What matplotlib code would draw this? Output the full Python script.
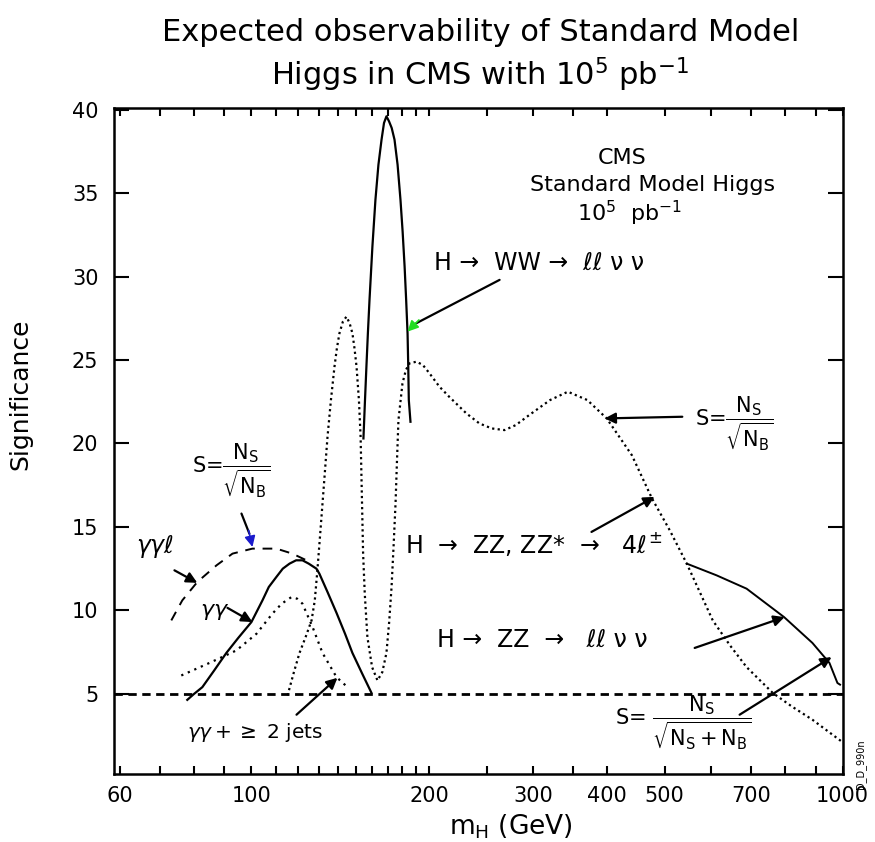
import matplotlib
matplotlib.use('Agg')
import matplotlib.pyplot as plt
from matplotlib.ticker import FixedLocator, NullFormatter

plt.rcParams['font.family'] = 'DejaVu Sans'
plt.rcParams['mathtext.fontset'] = 'dejavusans'

# H -> WW -> l l nu nu (solid)
ww_m = [154.7, 155.6, 156.5, 157.4, 158.4, 160.2, 162.1, 164.0, 166.0, 167.6, 169.2, 170.9,
        172.7, 174.6, 176.7, 178.7, 180.2, 181.6, 182.7, 183.7, 184.2, 184.6, 185.8]
ww_s = [20.3, 22.5, 24.6, 26.6, 28.6, 31.8, 34.6, 36.7, 38.2, 39.2, 39.6, 39.3,
        38.9, 38.2, 36.7, 34.6, 32.7, 30.6, 28.6, 26.6, 24.6, 22.6, 21.3]

# H -> ZZ, ZZ* -> 4l (dotted)
zz4l_m = [115.1, 118, 120.6, 123.5, 126.4, 128, 129.3, 130.6, 131.9, 133.2, 134.5, 136.3,
          138.2, 139.5, 140.9, 142.8, 144.8, 146.6, 148.2, 149.4, 150.6, 152, 153.0, 154.5,
          155.5, 157.1, 160, 163.4, 166.5, 169.2, 171, 172.6, 174, 175.3, 176.3, 177.3,
          180.1, 182.5, 185.1, 190.2, 195, 200.1, 208, 216, 231, 243, 255, 268, 280, 295,
          320, 343, 370, 399, 440, 476, 510, 545, 603, 645, 688, 762, 820, 889, 1000]
zz4l_s = [4.9, 6.3, 7.45, 8.4, 9.4, 10.6, 12.4, 14.4, 16.4, 18.4, 20.4, 22.6,
          24.6, 25.7, 26.6, 27.3, 27.6, 27.2, 26.6, 25.7, 24.6, 22.6, 20.4, 13.4,
          11.0, 8.4, 6.6, 5.8, 6.3, 7.45, 9.3, 11.4, 13.9, 16.4, 19.0, 21.4,
          23.6, 24.4, 24.8, 24.9, 24.7, 24.2, 23.4, 22.8, 21.8, 21.2, 20.9, 20.8, 21.1, 21.7,
          22.6, 23.1, 22.6, 21.5, 19.3, 16.7, 14.8, 12.8, 9.4, 7.9, 6.6, 5.05, 4.25, 3.45, 2.1]

# H -> gamma gamma (solid)
gg_m = [77.9, 80, 82.6, 86.5, 90.7, 95, 100, 104.4, 107, 110.2, 113, 116, 119, 122,
        125, 128.8, 130.3, 134.5, 139.3, 144, 148.2, 154, 159.6]
gg_s = [4.64, 5.0, 5.4, 6.4, 7.45, 8.35, 9.3, 10.6, 11.4, 12.0, 12.5, 12.8, 13.0, 13.0,
        12.8, 12.5, 12.2, 11.1, 9.85, 8.6, 7.45, 6.2, 5.06]

# gamma gamma + >= 2 jets (dotted)
ggj_m = [76.1, 84.9, 94.3, 102, 108.5, 112.5, 116.9, 119.5, 122.0, 126.9, 131.9, 139.3, 145.4]
ggj_s = [6.1, 6.85, 7.6, 8.6, 9.8, 10.4, 10.8, 10.7, 10.4, 9.0, 7.45, 6.0, 5.4]

# gamma gamma l (dashed)
ggl_m = [73.2, 76.4, 81.0, 87.3, 92.9, 100.4, 110.2, 117.3, 123.9]
ggl_s = [9.4, 10.6, 11.7, 12.7, 13.4, 13.7, 13.7, 13.4, 13.0]

# H -> ZZ -> l l nu nu (solid)
zzln_m = [545, 612, 688, 796, 889, 950, 980, 990]
zzln_s = [12.8, 12.1, 11.3, 9.6, 8.05, 6.85, 5.65, 5.55]

discovery = 5

xticks_major = [60, 100, 200, 300, 400, 500, 700, 1000]
xticks_minor = [70, 80, 90, 110, 120, 130, 140, 150, 160, 170, 180, 190,
                250, 350, 600, 800, 900]
yticks = [5, 10, 15, 20, 25, 30, 35, 40]

fig = plt.figure(figsize=(8.75, 8.42), dpi=100)
ax = fig.add_axes([0.130, 0.0808, 0.833, 0.791])

ax.plot(ww_m, ww_s, color='black', lw=1.6)
ax.plot(zz4l_m, zz4l_s, color='black', lw=1.6, linestyle=(0, (1, 1.5)))
ax.plot(gg_m, gg_s, color='black', lw=1.6)
ax.plot(ggj_m, ggj_s, color='black', lw=1.6, linestyle=(0, (1, 2.2)))
ax.plot(ggl_m, ggl_s, color='black', lw=1.4, linestyle=(0, (5, 4)))
ax.plot(zzln_m, zzln_s, color='black', lw=1.4)
ax.axhline(discovery, color='black', lw=2, linestyle=(0, (3, 2)))

ax.set_xscale('log')
ax.set_xlim(58.5, 1000)
ax.set_ylim(0.2, 40.1)
ax.xaxis.set_major_locator(FixedLocator(xticks_major))
ax.xaxis.set_minor_locator(FixedLocator(xticks_minor))
ax.set_xticklabels([str(t) for t in xticks_major])
ax.xaxis.set_minor_formatter(NullFormatter())
ax.set_yticks(yticks)
ax.tick_params(axis='x', which='both', direction='in', top=True, length=6, width=1.5,
               labelsize=15, pad=9)
ax.tick_params(axis='y', direction='in', right=True, length=11, width=1.5,
               labelsize=15, pad=11)
for sp in ax.spines.values():
    sp.set_linewidth(1.8)

ax.set_xlabel(r'm$_{\rm H}$ (GeV)', fontsize=19)
ax.xaxis.set_label_coords(0.545, -0.058)
ax.set_ylabel('Significance', fontsize=18)
ax.yaxis.set_label_coords(-0.111, 0.57)

fig.text(0.549, 0.961, 'Expected observability of Standard Model', ha='center', va='center',
         fontsize=22)
fig.text(0.549, 0.911, r'Higgs in CMS with 10$^5$ pb$^{-1}$', ha='center', va='center',
         fontsize=22)

# labels in the plot
ax.text(424, 37.1, 'CMS', ha='center', va='center', fontsize=16)
ax.text(477, 35.5, 'Standard Model Higgs', ha='center', va='center', fontsize=16)
ax.text(436, 33.8, r'10$^5$  pb$^{-1}$', ha='center', va='center', fontsize=16)
ax.text(204, 30.8, 'H \u2192  WW \u2192  \u2113\u2113 \u03bd \u03bd', ha='left', va='center', fontsize=17)
ax.text(562, 21.2, r'S=$\dfrac{\rm N_S}{\sqrt{\rm N_B}}$', ha='left', va='center', fontsize=15)
ax.text(181.6, 14.0, 'H  \u2192  ZZ, ZZ*  \u2192   4$\\ell^{\\pm}$', ha='left', va='center', fontsize=17)
ax.text(206.4, 8.23, 'H \u2192  ZZ  \u2192   \u2113\u2113 \u03bd \u03bd', ha='left', va='center', fontsize=17)
ax.text(411.5, 3.3, r'S= $\dfrac{\rm N_S}{\sqrt{\rm N_S + N_B}}$', ha='left', va='center', fontsize=15)
ax.text(92.5, 18.4, r'S=$\dfrac{\rm N_S}{\sqrt{\rm N_B}}$', ha='center', va='center', fontsize=15)
ax.text(63.9, 13.8, r'$\gamma\gamma\ell$', ha='left', va='center', fontsize=17)
ax.text(81.7, 9.9, r'$\gamma\gamma$', ha='left', va='center', fontsize=16)
ax.text(77.9, 2.66, r'$\gamma\gamma + \geq$ 2 jets', ha='left', va='center', fontsize=14.5)

arrow = dict(arrowstyle='-|>', lw=1.6, color='black', mutation_scale=16, shrinkA=0, shrinkB=0)
ax.annotate('', xy=(480.8, 16.8), xytext=(376, 14.7), arrowprops=arrow)
ax.annotate('', xy=(797.8, 9.6), xytext=(562, 7.75), arrowprops=arrow)
ax.annotate('', xy=(958, 7.2), xytext=(669.5, 3.75), arrowprops=arrow)
ax.annotate('', xy=(395.7, 21.5), xytext=(535.6, 21.6), arrowprops=arrow)
ax.annotate('', xy=(81.0, 11.65), xytext=(74.1, 12.4), arrowprops=arrow)
ax.annotate('', xy=(100.4, 9.3), xytext=(91.1, 10.15), arrowprops=arrow)
ax.annotate('', xy=(139.8, 5.96), xytext=(119.2, 3.75), arrowprops=arrow)

# WW arrow with green head, left arrow with blue head
line = dict(arrowstyle='-', lw=1.6, color='black', shrinkA=0, shrinkB=0)
ax.annotate('', xy=(190, 27.2), xytext=(262.9, 29.8), arrowprops=line)
ax.annotate('', xy=(183.7, 26.7), xytext=(192, 27.4),
            arrowprops=dict(arrowstyle='-|>', lw=1.2, color='#22dd22', mutation_scale=16, shrinkA=0, shrinkB=0))
ax.annotate('', xy=(99.2, 14.6), xytext=(96.2, 15.8), arrowprops=line)
ax.annotate('', xy=(100.4, 13.8), xytext=(98.9, 14.8),
            arrowprops=dict(arrowstyle='-|>', lw=1.2, color='#1a1acc', mutation_scale=16, shrinkA=0, shrinkB=0))

fig.text(0.983, 0.092, 'D_D_990n', rotation=90, ha='center', va='center', fontsize=7)

plt.savefig('out.png', dpi=100)
